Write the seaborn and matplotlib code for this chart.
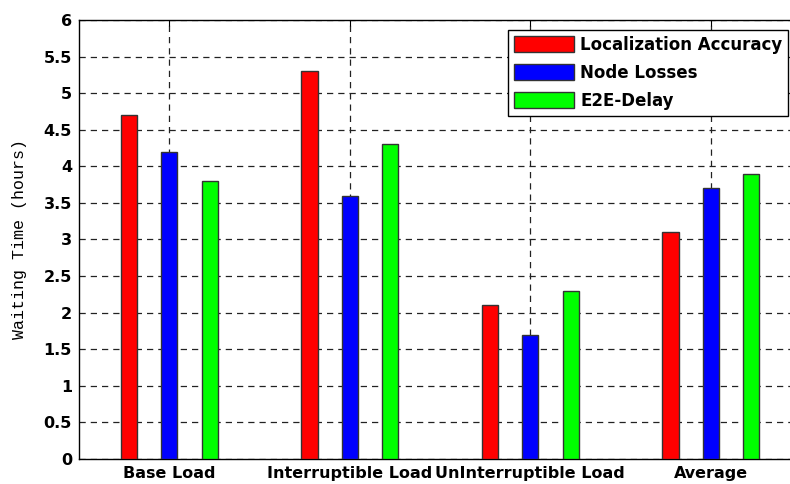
import matplotlib
matplotlib.use("Agg")
import matplotlib.pyplot as plt
import seaborn as sns
import pandas as pd

# values
categories = ['Base Load', 'Interruptible Load', 'UnInterruptible Load', 'Average']
series = ['Localization Accuracy', 'Node Losses', 'E2E-Delay']
localization = [4.7, 5.3, 2.1, 3.1]
node_losses = [4.2, 3.6, 1.7, 3.7]
e2e_delay = [3.8, 4.3, 2.3, 3.9]
y_ticks = [0, 0.5, 1, 1.5, 2, 2.5, 3, 3.5, 4, 4.5, 5, 5.5, 6]
y_tick_labels = ['0', '0.5', '1', '1.5', '2', '2.5', '3', '3.5', '4', '4.5', '5', '5.5', '6']

rows = []
for name, vals in zip(series, [localization, node_losses, e2e_delay]):
    for cat, v in zip(categories, vals):
        rows.append([cat, name, v])
df = pd.DataFrame(rows, columns=['category', 'series', 'value'])

sns.set_style('white')
plt.rcParams['font.family'] = ['DejaVu Sans']
plt.rcParams['text.color'] = 'black'
plt.rcParams['xtick.color'] = 'black'
plt.rcParams['ytick.color'] = 'black'
plt.rcParams['axes.labelcolor'] = 'black'

fig = plt.figure(figsize=(7.9, 4.84), dpi=100)
# axes runs past the right edge, as in the reference
ax = fig.add_axes([0.1, 0.0517, 0.914, 0.907])

sns.barplot(data=df, x='category', y='value', hue='series',
            order=categories, hue_order=series,
            palette=['#FF0000', '#0000FF', '#00FF00'], saturation=1,
            width=0.67, gap=0.6, edgecolor='#333333', linewidth=1.0,
            errorbar=None, ax=ax, zorder=3)

ax.set_xlim(-0.5, 3.5)
ax.set_ylim(0, 6)
ax.set_yticks(y_ticks)
ax.set_yticklabels(y_tick_labels)

# dashed MATLAB-like grid
ax.grid(True, axis='both', color='#222222', linestyle=(0, (5, 4)), linewidth=0.9)
ax.set_axisbelow(True)

for s in ax.spines.values():
    s.set_color('black')
    s.set_linewidth(1.0)
    s.set_visible(True)

ax.tick_params(axis='both', direction='in', length=4, color='black', width=0.8,
               top=True, right=False, labelsize=11.5, pad=5)
for lbl in ax.get_xticklabels() + ax.get_yticklabels():
    lbl.set_fontweight('bold')

ax.set_xlabel('')
ax.set_ylabel('Waiting Time (hours)', family='Liberation Mono', fontsize=12,
              labelpad=12)

handles, labels = ax.get_legend_handles_labels()
leg = ax.legend(handles, labels, loc='upper left', bbox_to_anchor=(0.594, 0.977),
                frameon=True, fancybox=False, edgecolor='black', framealpha=1,
                prop={'weight': 'bold', 'size': 12},
                handlelength=3.6, handleheight=1.1, labelspacing=0.6,
                handletextpad=0.4, borderpad=0.35, borderaxespad=0)
leg.get_frame().set_linewidth(1.0)

fig.savefig('out.png', dpi=100)
